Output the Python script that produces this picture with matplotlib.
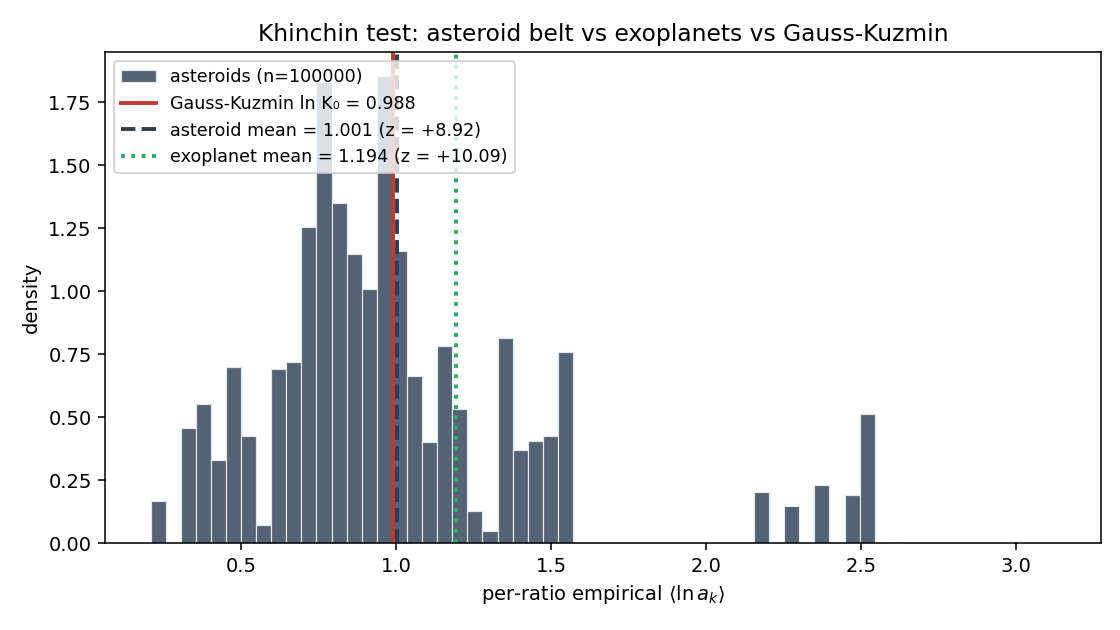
import matplotlib
matplotlib.use("Agg")
import matplotlib.pyplot as plt
import numpy as np

# histogram data (density per bin)
bin_lo = 0.207
bin_hi = 3.128
n_bins = 60
densities = [
    0.168, 0.0, 0.455, 0.550, 0.331, 0.700, 0.423, 0.073, 0.689, 0.717,
    1.255, 1.830, 1.348, 1.146, 1.007, 1.855, 1.160, 0.665, 0.402, 0.782,
    0.534, 0.128, 0.049, 0.812, 0.368, 0.404, 0.425, 0.757, 0.0, 0.0,
    0.0, 0.0, 0.0, 0.0, 0.0, 0.0, 0.0, 0.0, 0.0, 0.0,
    0.204, 0.0, 0.146, 0.0, 0.229, 0.0, 0.189, 0.511, 0.0, 0.005,
    0.0, 0.0, 0.0, 0.0, 0.0, 0.0, 0.0, 0.0, 0.0, 0.0,
]
gk_value = 0.988
asteroid_mean = 1.001
asteroid_z = 8.92
exo_mean = 1.194
exo_z = 10.09
n_asteroids = 100000

edges = np.linspace(bin_lo, bin_hi, n_bins + 1)
centers = 0.5 * (edges[:-1] + edges[1:])

fig, ax = plt.subplots(figsize=(8, 4.5), dpi=140)
fig.subplots_adjust(left=0.094, right=0.983, top=0.917, bottom=0.138)

ax.hist(centers, bins=edges, weights=densities, color="#536375",
        edgecolor="#e5e7eb", linewidth=0.6,
        label=f"asteroids (n={n_asteroids})")
ax.axvline(gk_value, color="#c0392b", lw=2,
           label=f"Gauss-Kuzmin ln K\u2080 = {gk_value:.3f}")
ax.axvline(asteroid_mean, color="#2c3e50", lw=2, ls="--",
           label=f"asteroid mean = {asteroid_mean:.3f} (z = +{asteroid_z:.2f})")
ax.axvline(exo_mean, color="#27ae60", lw=2, ls=":",
           label=f"exoplanet mean = {exo_mean:.3f} (z = +{exo_z:.2f})")

ax.set_xlim(0.061, 3.274)
ax.set_ylim(0, 1.948)
ax.set_yticks(np.arange(0, 1.76, 0.25))
ax.set_xlabel(r"per-ratio empirical $\langle\ln a_k\rangle$", fontsize=10)
ax.set_ylabel("density", fontsize=10)
ax.set_title("Khinchin test: asteroid belt vs exoplanets vs Gauss-Kuzmin", fontsize=12)
ax.tick_params(labelsize=10)
ax.legend(loc="upper left", fontsize=9)

fig.savefig("out.png", dpi=140)
